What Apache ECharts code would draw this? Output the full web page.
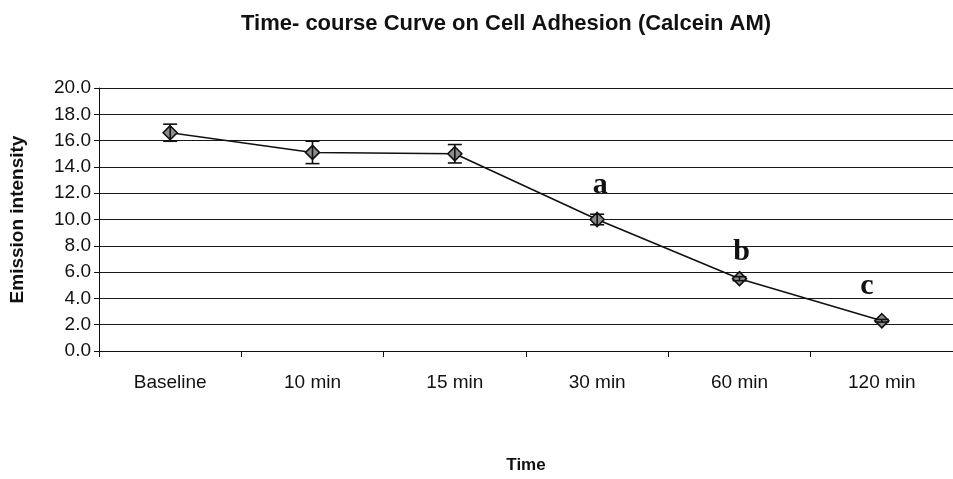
<!DOCTYPE html>
<html>
<head>
<meta charset="utf-8">
<script src="https://cdn.jsdelivr.net/npm/echarts@6/dist/echarts.min.js"></script>
<style>
html, body { margin: 0; padding: 0; background: #fff; }
#main { width: 953px; height: 479px; }
</style>
</head>
<body>
<div id="main"></div>
<script>
var categories = ['Baseline', '10 min', '15 min', '30 min', '60 min', '120 min'];
var means = [16.6, 15.1, 15.0, 10.0, 5.5, 2.3];
var errors = [0.65, 0.85, 0.7, 0.4, 0.15, 0.1];
var letters = ['', '', '', 'a', 'b', 'c'];
var yTicks = [0, 2, 4, 6, 8, 10, 12, 14, 16, 18, 20];

var chart = echarts.init(document.getElementById('main'));

var errData = [];
for (var i = 0; i < categories.length; i++) {
	errData.push([i, means[i] - errors[i], means[i] + errors[i]]);
}

// letter label tweaks, per point
var letterDist = [0, 0, 0, 11, 4, 12];
var letterShift = [0, 0, 0, 3, 2, -15];

var option = {
	backgroundColor: '#fff',
	animation: false,
	title: {
		text: 'Time- course Curve on Cell Adhesion (Calcein AM)',
		left: 236,
		top: 8,
		textStyle: {fontFamily: 'Liberation Sans', fontSize: 22, fontWeight: 'bold', color: '#111'}
	},
	grid: {left: 97, width: 866, top: 88, bottom: 123},
	xAxis: {
		type: 'category',
		data: categories,
		name: 'Time',
		nameLocation: 'middle',
		nameGap: 106,
		nameTextStyle: {fontFamily: 'Liberation Sans', fontSize: 17, fontWeight: 'bold', color: '#111'},
		axisLine: {lineStyle: {color: '#111', width: 1}},
		axisTick: {show: true, length: 6, lineStyle: {color: '#111'}},
		axisLabel: {fontFamily: 'Liberation Sans', fontSize: 19, color: '#111', margin: 22},
		splitLine: {show: false}
	},
	yAxis: {
		type: 'value',
		min: yTicks[0],
		max: yTicks[yTicks.length - 1],
		interval: 2,
		name: 'Emission intensity',
		nameLocation: 'middle',
		nameGap: 72,
		nameTextStyle: {fontFamily: 'Liberation Sans', fontSize: 19, fontWeight: 'bold', color: '#111'},
		axisLine: {show: true, lineStyle: {color: '#111', width: 1}},
		axisTick: {show: true, length: 5, lineStyle: {color: '#111'}},
		axisLabel: {
			fontFamily: 'Liberation Sans', fontSize: 19, color: '#111', margin: 8,
			formatter: function (v) { return v.toFixed(1); }
		},
		splitLine: {show: true, lineStyle: {color: '#1a1a1a', width: 1}}
	},
	series: [
		{
			type: 'line',
			data: means.map(function (v, i) {
				return {
					value: v,
					label: {
						show: letters[i] !== '',
						formatter: letters[i],
						distance: letterDist[i],
						offset: [letterShift[i], 0]
					}
				};
			}),
			symbol: 'diamond',
			symbolSize: 14,
			lineStyle: {color: '#111', width: 1.6},
			itemStyle: {color: '#8c8c8c', borderColor: '#111', borderWidth: 1.6},
			label: {
				position: 'top',
				fontFamily: 'Liberation Serif',
				fontSize: 30,
				fontWeight: 'bold',
				color: '#111'
			},
			z: 3
		},
		{
			type: 'custom',
			data: errData,
			z: 4,
			renderItem: function (params, api) {
				var x = api.value(0);
				var lo = api.coord([x, api.value(1)]);
				var hi = api.coord([x, api.value(2)]);
				var w = 7;
				var st = {stroke: '#111', lineWidth: 1.6};
				return {
					type: 'group',
					children: [
						{type: 'line', shape: {x1: lo[0], y1: lo[1], x2: hi[0], y2: hi[1]}, style: st},
						{type: 'line', shape: {x1: lo[0] - w, y1: lo[1], x2: lo[0] + w, y2: lo[1]}, style: st},
						{type: 'line', shape: {x1: hi[0] - w, y1: hi[1], x2: hi[0] + w, y2: hi[1]}, style: st}
					]
				};
			}
		}
	]
};

chart.setOption(option);
</script>
</body>
</html>
